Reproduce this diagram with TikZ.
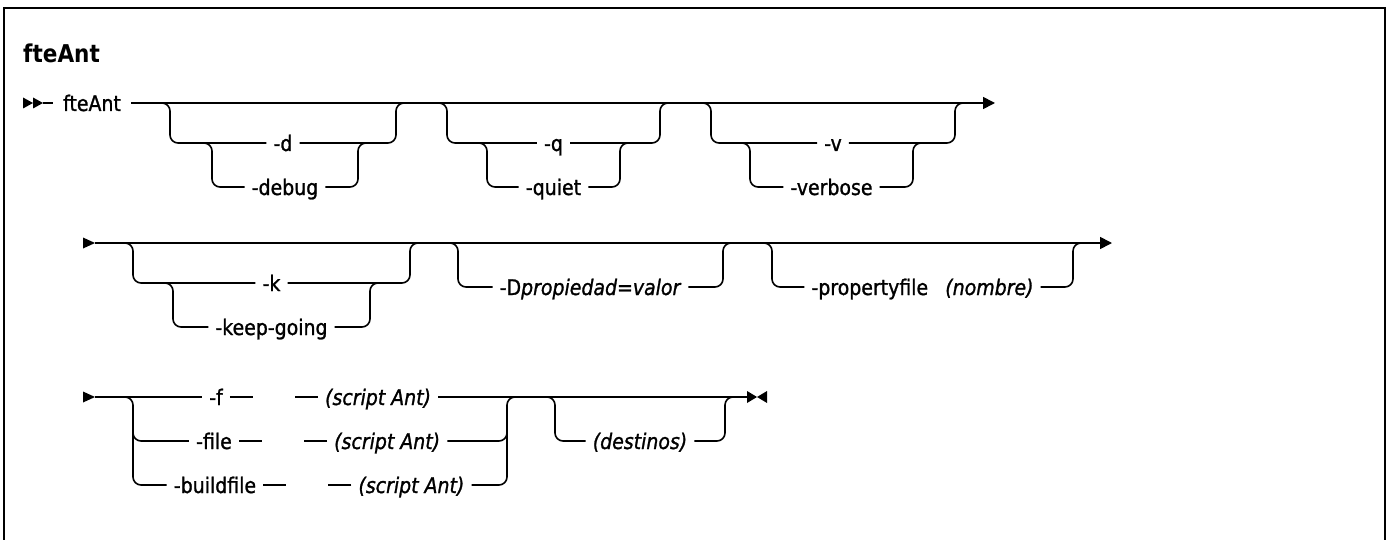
\documentclass[tikz,border=0pt]{standalone}
\usepackage{fontspec}
\setmainfont{DejaVu Sans}
\newfontfamily\railfont{DejaVu Sans}[FakeStretch=0.88, FakeBold=1.2]
\newfontfamily\titlefont{DejaVu Sans Bold}[FakeStretch=0.88]
\usetikzlibrary{positioning,arrows.meta}

\tikzset{
  rail/.style={line width=1.6pt, rounded corners=8pt},
  kw/.style={inner xsep=7pt, inner ysep=0pt, text height=16pt, text depth=0pt,
    font=\railfont\fontsize{21.5}{24}\selectfont},
  var/.style={kw, font=\railfont\fontsize{21.5}{24}\selectfont\itshape},
}

\begin{document}
\begin{tikzpicture}[x=1pt, y=1pt]

    \useasboundingbox (0,0) rectangle (1388,-540);

    % Frame (open at the bottom)
    \draw[line width=2pt] (4,-540) -- (4,-8) -- (1385,-8) -- (1385,-540);

    % Title
    \node[anchor=base west, inner sep=0pt, font=\titlefont\fontsize{24.5}{28}\selectfont]
        (title) at (23,-63) {fteAnt};

    % Row 1: command and main line
    \fill (23,-97.5) -- (33,-103) -- (23,-108.5) -- cycle;
    \fill (33,-97.5) -- (43,-103) -- (33,-108.5) -- cycle;
    \coordinate (start1) at (43,-103);
    \coordinate (end1) at (995,-103);
    \node[kw, inner xsep=10pt] (cmd) at (92,-103) {fteAnt};
    \draw[rail] (start1) -- (cmd.west);
    \draw[rail, -{Triangle[length=12pt, width=12pt]}] (cmd.east) -- (end1);

    % Row 2: main line
    \fill (83,-237.5) -- (95,-243) -- (83,-248.5) -- cycle;
    \coordinate (start2) at (95,-243);
    \coordinate (end2) at (1112,-243);
    \draw[rail, -{Triangle[length=12pt, width=12pt]}] (start2) -- (end2);

    % Optional pairs (short form / long form)
    \foreach \n/\y/\l/\r/\sl/\sr/\ta/\tb in {
        d/103/170/396/212/358/-d/-debug,
        q/103/447/660/487/620/-q/-quiet,
        v/103/711/955/750/913/-v/-verbose,
        k/243/133/410/173/370/-k/-keep-going} {
        \pgfmathsetmacro\ya{-\y-40}
        \pgfmathsetmacro\yb{-\y-84}
        \node[kw] (opt\n) at ({(\l+\r)/2},\ya) {\ta};
        \node[kw] (sub\n) at ({(\sl+\sr)/2},\yb) {\tb};
        \draw[rail] (\l-8,-\y) -- (\l,-\y) -- (\l,\ya) -- (opt\n.west);
        \draw[rail] (opt\n.east) -- (\r,\ya) -- (\r,-\y) -- (\r+8,-\y);
        \draw[rail] (\sl-8,\ya) -- (\sl,\ya) -- (\sl,\yb) -- (sub\n.west);
        \draw[rail] (sub\n.east) -- (\sr,\yb) -- (\sr,\ya) -- (\sr+8,\ya);
    }

    % Single optional items
    \foreach \n/\y/\l/\r/\t in {
        D/243/458/723/{-D\textit{propiedad=valor}},
        P/243/772/1073/{-propertyfile\hspace{0.8em}\textit{(nombre)}},
        dest/397/555/725/{\textit{(destinos)}}} {
        \pgfmathsetmacro\ya{-\y-44}
        \node[kw] (opt\n) at ({(\l+\r)/2},\ya) {\t};
        \draw[rail] (\l-8,-\y) -- (\l,-\y) -- (\l,\ya) -- (opt\n.west);
        \draw[rail] (opt\n.east) -- (\r,\ya) -- (\r,-\y) -- (\r+8,-\y);
    }

    % Row 3: build file choice
    \fill (83,-391.5) -- (95,-397) -- (83,-402.5) -- cycle;
    \coordinate (start3) at (95,-397);
    \coordinate (end3) at (747,-397);
    \node[kw] (f) at (216,-397) {-f};
    \node[kw] (file) at (214,-441) {-file};
    \node[kw] (build) at (215,-485) {-buildfile};
    \foreach \n in {f,file,build} {
        \node[var, right=88pt of \n] (s\n) {(script Ant)};
        \draw[rail] (\n.east) -- ++(23,0);
        \draw[rail] (s\n.west) -- ++(-23,0);
    }
    \draw[rail] (start3) -- (f.west);
    \draw[rail] (sf.east) -- (end3);
    \draw[rail] (125,-397) -- (133,-397) -- (133,-485) -- (build.west);
    \draw[rail] (133,-430) -- (133,-441) -- (file.west);
    \draw[rail] (sbuild.east) -- (507,-485) -- (507,-397) -- (515,-397);
    \draw[rail] (sfile.east) -- (507,-441) -- (507,-430);

    % End marker
    \fill (747,-391) -- (757,-397) -- (747,-403) -- cycle;
    \fill (767,-391) -- (757,-397) -- (767,-403) -- cycle;

\end{tikzpicture}
\end{document}
